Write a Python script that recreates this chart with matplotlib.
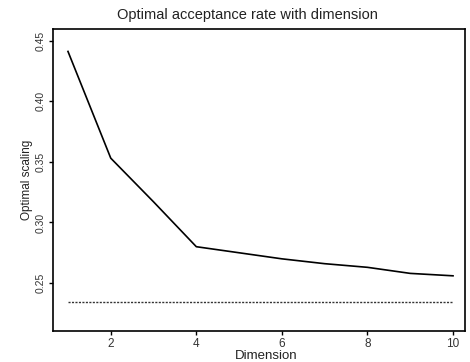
import matplotlib
matplotlib.use("Agg")
import matplotlib.pyplot as plt

dimension = [1, 2, 3, 4, 5, 6, 7, 8, 9, 10]
optimal = [0.441, 0.353, 0.317, 0.280, 0.275, 0.270, 0.266, 0.263, 0.258, 0.256]
limit_value = 0.234
xticks = [2, 4, 6, 8, 10]
yticks = [0.25, 0.30, 0.35, 0.40, 0.45]

plt.rcParams['font.family'] = ['Liberation Sans', 'DejaVu Sans']
fig = plt.figure(figsize=(4.7, 3.62), dpi=100)
ax = fig.add_axes([53/470, 1-331/362, (465-53)/470, (331-29)/362])
ax.plot(dimension, optimal, color='black', lw=1.2)
ax.plot([dimension[0], dimension[-1]], [limit_value, limit_value], color='#333333', lw=1.0, ls=(0, (1.5, 1)))
ax.set_xlim(0.65, 10.28)
ax.set_ylim(0.2105, 0.4595)
ax.set_xticks(xticks)
ax.set_xticklabels([str(t) for t in xticks], fontsize=8.5, color='#333333')
ax.set_yticks(yticks)
ax.set_yticklabels([f"{t:.2f}" for t in yticks], fontsize=7.5, rotation=90, va='center', color='#333333')
ax.tick_params(direction='out', length=3, width=1, pad=2)
for s in ax.spines.values():
    s.set_linewidth(1.2)
ax.set_xlabel("Dimension", fontsize=9.5, labelpad=0, color='#222222', x=0.517)
ax.set_ylabel("Optimal scaling", fontsize=8.5, labelpad=2, color='#222222')
ax.set_title("Optimal acceptance rate with dimension", fontsize=10.5, pad=7, color='#222222', x=0.473)
fig.savefig("out.png", dpi=100)
